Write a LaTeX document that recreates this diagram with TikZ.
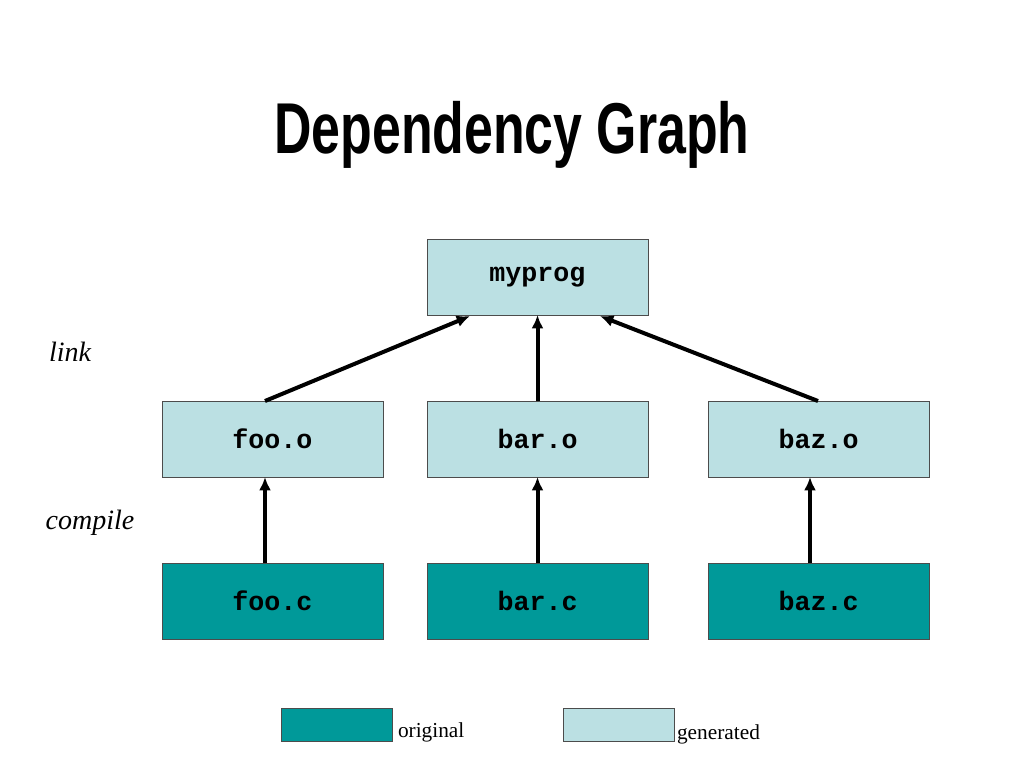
\documentclass[tikz,border=0pt]{standalone}
\usepackage{fontspec}
\setmainfont{Liberation Serif}
\newfontfamily\titlefont{Liberation Sans}
\newfontfamily\boxfont{Liberation Mono}
\usetikzlibrary{arrows.meta}
\definecolor{origcol}{HTML}{009999}
\definecolor{gencol}{HTML}{BBE0E3}
\begin{document}
\begin{tikzpicture}[x=0.75pt,y=-0.75pt]
\tikzset{ >={Latex[length=10pt,width=9pt]}, inner sep=0pt, outer sep=0pt,
  genbox/.style={draw=black!70, fill=gencol, minimum width=166pt, minimum height=57pt, font=\boxfont\bfseries\fontsize{20}{24}\selectfont},
  origbox/.style={genbox, fill=origcol},
  dep/.style={->, line width=3pt} }
\useasboundingbox (0,0) rectangle (1024,768);

% Titel
\node (title) at (512,135) {\scalebox{0.72}[1]{\titlefont\bfseries\fontsize{54}{60}\selectfont Dependency Graph}};

%%% Knoten
\node [genbox] (myprog) at (537.5,277) {myprog};
\node [genbox] (fooo) at (272.5,439) {foo.o};
\node [genbox] (baro) at (537.5,439) {bar.o};
\node [genbox] (bazo) at (818.5,439) {baz.o};
\node [origbox] (fooc) at (272.5,601) {foo.c};
\node [origbox] (barc) at (537.5,601) {bar.c};
\node [origbox] (bazc) at (818.5,601) {baz.c};

% Beschriftung
\node (link) at (70,352) {\fontsize{21}{24}\selectfont\itshape link};
\node (compile) at (90,523) {\fontsize{21}{24}\selectfont\itshape compile};

%%% Pfeile
\coordinate (fooTop) at (265,401);
\coordinate (bazTop) at (818,401);
\coordinate (progL) at (470,316);
\coordinate (progR) at (600,316);
\draw [dep] (fooTop) -- (progL);
\draw [dep] (baro.north) -- (myprog.south);
\draw [dep] (bazTop) -- (progR);
\draw [dep] (fooc.north -| fooTop) -- (fooo.south -| fooTop);
\draw [dep] (barc.north) -- (baro.south);
\draw [dep] (810,563) -- (810,477);

%%% Legende
\node [draw=black!70, fill=origcol, minimum width=83pt, minimum height=25pt] (legorig) at (336.5,725) {};
\node [draw=black!70, fill=gencol, minimum width=83pt, minimum height=25pt] (leggen) at (618.5,725) {};
\node [anchor=west] (origtxt) at (398,732) {\fontsize{16}{18}\selectfont original};
\node [anchor=west] (gentxt) at (677,734) {\fontsize{16}{18}\selectfont generated};
\end{tikzpicture}
\end{document}
